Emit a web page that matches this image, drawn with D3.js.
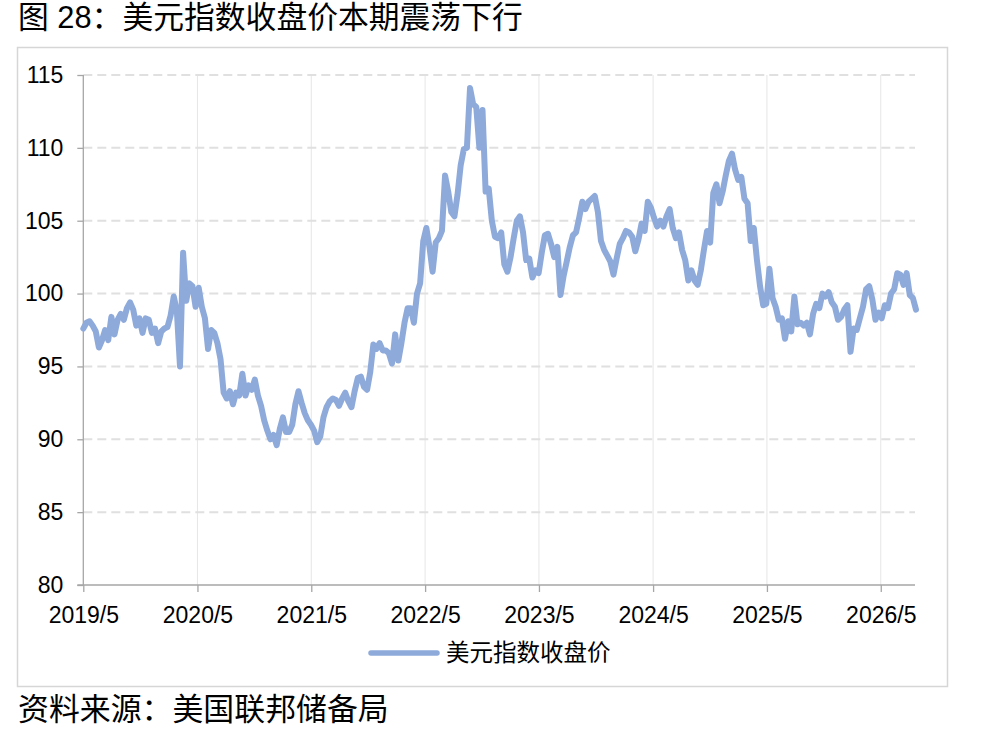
<!DOCTYPE html>
<html><head><meta charset="utf-8">
<script src="https://cdn.jsdelivr.net/npm/d3@7"></script>
<style>
body{margin:0;background:#fff;}
svg{display:block;}
</style></head><body>
<svg id="chart" width="988" height="729"></svg>
<script>
// ---- data ----
const titleText = "图 28：美元指数收盘价本期震荡下行";
const sourceText = "资料来源：美国联邦储备局";
const seriesName = "美元指数收盘价";
const startDate = "2019-05-01";   // first observation
const stepDays = 10;              // spacing between observations
const dxyValues = [
  97.6,98.0,98.1,97.8,97.4,96.3,96.8,97.5,96.8,98.4,
  97.2,98.2,98.6,98.2,99.0,99.4,98.9,97.8,98.3,97.3,
  98.3,98.2,97.3,97.6,96.6,97.4,97.6,97.7,98.5,99.8,
  98.8,95.0,102.8,99.5,100.7,100.5,99.1,100.4,99.1,98.3,
  96.2,97.5,97.3,96.6,95.5,93.2,92.8,93.3,92.4,93.2,
  93.0,94.5,93.0,93.7,93.4,94.1,93.0,92.3,91.3,90.6,
  90.0,90.3,89.6,90.7,91.5,90.5,90.5,91.0,92.4,93.3,
  92.5,91.8,91.3,91.0,90.6,89.8,90.2,91.5,92.2,92.6,
  92.8,92.7,92.3,92.8,93.2,92.6,92.2,93.3,94.2,94.3,
  93.6,93.4,94.6,96.5,96.2,96.6,96.1,96.1,95.9,95.2,
  97.2,95.4,96.6,98.0,99.0,99.0,98.0,100.0,100.7,103.6,
  104.5,103.2,101.5,103.5,103.8,104.3,108.1,107.0,105.6,105.3,
  106.8,108.8,109.9,110.0,114.1,113.0,112.8,110.0,112.6,107.0,
  107.2,105.0,103.9,103.8,104.2,102.0,101.5,102.5,103.8,105.0,
  105.3,104.2,102.3,102.4,101.1,101.6,101.4,102.8,104.0,104.1,
  103.4,102.5,103.2,99.9,101.2,102.2,103.2,104.0,104.2,105.2,
  106.3,105.8,106.3,106.5,106.7,105.6,103.6,103.0,102.6,102.2,
  101.3,102.4,103.4,103.8,104.3,104.2,103.9,102.9,103.7,104.8,
  104.3,106.3,105.9,105.2,104.6,105.0,104.6,105.3,105.8,104.5,
  103.8,104.2,103.0,102.3,100.9,101.6,100.9,100.6,101.6,103.0,
  104.3,103.5,106.9,107.5,106.2,107.0,108.1,109.1,109.6,108.5,
  107.8,108.0,106.5,106.2,103.6,104.5,102.3,100.5,99.2,99.3,
  101.7,99.7,99.1,98.2,98.3,96.9,98.1,97.4,99.8,97.9,
  98.0,97.8,98.0,97.2,98.6,99.3,99.0,100.0,99.8,100.1,
  99.4,99.1,98.2,98.4,98.9,99.2,96.0,97.6,97.5,98.3,
  99.1,100.3,100.5,99.6,98.2,98.7,98.3,99.2,99.0,100.0,
  100.3,101.4,101.3,100.6,101.4,99.9,99.7,98.9
];
const yTickValues = [80, 85, 90, 95, 100, 105, 110, 115];
const xTickLabels = ["2019/5","2020/5","2021/5","2022/5","2023/5","2024/5","2025/5","2026/5"];

// ---- setup ----
const lineColor = "#8eaadb";
const numFont = "'Liberation Sans', Arial, 'Noto Sans CJK SC', sans-serif";
const cjkFont = "'Liberation Sans', 'Noto Sans CJK SC', sans-serif";
const svg = d3.select("#chart");

const parseDay = d3.timeParse("%Y-%m-%d");
const parseTick = d3.timeParse("%Y/%m");
const t0 = parseDay(startDate);
const data = dxyValues.map((v, i) => ({date: d3.timeDay.offset(t0, i * stepDays), value: v}));
const tickDates = xTickLabels.map(parseTick);

const plot = {left: 83.3, right: 916, top: 75, bottom: 585};
const x = d3.scaleTime().domain([t0, data[data.length - 1].date]).range([plot.left, plot.right]);
const y = d3.scaleLinear().domain([80, 115]).range([plot.bottom, plot.top]);

// frame
svg.append("rect").attr("x", 17.5).attr("y", 47.5).attr("width", 930).attr("height", 639)
  .attr("fill", "#fff").attr("stroke", "#d6d6d6").attr("stroke-width", 1.5);

// title & source
svg.append("text").attr("x", 18).attr("y", 28).attr("font-family", cjkFont)
  .attr("font-size", 30.8).attr("fill", "#000").text(titleText);
svg.append("text").attr("x", 18).attr("y", 720).attr("font-family", cjkFont)
  .attr("font-size", 30.9).attr("fill", "#000").text(sourceText);

// vertical grid
svg.append("g").selectAll("line").data(tickDates.slice(1)).join("line")
  .attr("x1", d => x(d)).attr("x2", d => x(d))
  .attr("y1", plot.top).attr("y2", plot.bottom)
  .attr("stroke", "#e6e6e6").attr("stroke-width", 1);

// horizontal dashed grid
svg.append("g").selectAll("line").data(yTickValues.slice(1)).join("line")
  .attr("x1", plot.left).attr("x2", plot.right - 1)
  .attr("y1", d => y(d)).attr("y2", d => y(d))
  .attr("stroke", "#e0e0e0").attr("stroke-width", 2).attr("stroke-dasharray", "9,5");

// axes
const yAxis = svg.append("g").attr("transform", `translate(${plot.left},0)`)
  .call(d3.axisLeft(y).tickValues(yTickValues).tickSize(6).tickPadding(14).tickFormat(d3.format("d")));
const xAxis = svg.append("g").attr("transform", `translate(0,${plot.bottom})`)
  .call(d3.axisBottom(x).tickValues(tickDates).tickSize(7).tickPadding(15)
        .tickFormat((d, i) => xTickLabels[i]));
[yAxis, xAxis].forEach(g => {
  g.select(".domain").attr("stroke", "#a6a6a6").attr("stroke-width", 1.3);
  g.selectAll(".tick line").attr("stroke", "#a6a6a6").attr("stroke-width", 1.3);
  g.selectAll(".tick text").attr("font-family", numFont).attr("font-size", 23).attr("fill", "#000");
});
xAxis.select(".domain").attr("d", `M${plot.left - 6},0H${plot.right - 1}`);
yAxis.select(".domain").attr("d", `M0,${plot.bottom}V${plot.top}`);

// line
const line = d3.line().x(d => x(d.date)).y(d => y(d.value));
svg.append("path").datum(data).attr("d", line)
  .attr("fill", "none").attr("stroke", lineColor).attr("stroke-width", 6)
  .attr("stroke-linejoin", "round").attr("stroke-linecap", "round");

// legend
const lg = svg.append("g").attr("transform", "translate(370,653)");
lg.append("line").attr("x1", 1).attr("x2", 67).attr("y1", 0).attr("y2", 0)
  .attr("stroke", lineColor).attr("stroke-width", 5.5).attr("stroke-linecap", "round");
lg.append("text").attr("x", 76).attr("y", 8).attr("font-family", cjkFont)
  .attr("font-size", 23.5).attr("fill", "#000").text(seriesName);
</script>
</body></html>
